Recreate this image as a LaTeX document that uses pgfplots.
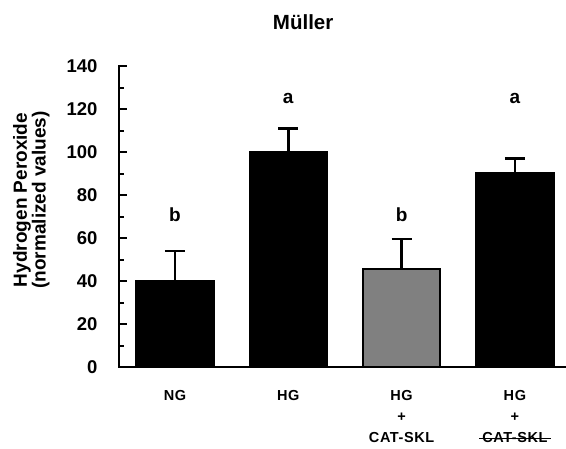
\documentclass[border=0pt]{standalone}
\usepackage{fontspec}
\setmainfont{Liberation Sans}
\usepackage{pgfplots}
\pgfplotsset{compat=1.18}
\newcommand\strike[1]{\setbox0\hbox{#1}\rlap{\kern-3pt\rule[0.32\ht0]{\dimexpr\wd0+6pt\relax}{1.4pt}}\box0}
\begin{document}
\begin{tikzpicture}
\begin{axis}[
  name=ax,
  scale only axis,
  width=447pt, height=301pt,
  xmin=-0.494, xmax=3.451,
  ymin=0, ymax=140,
  axis x line=bottom, axis y line=left,
  axis line style={-, line width=2.5pt, line cap=rect},
  ytick={0,20,...,140},
  minor y tick num=1,
  tick align=inside,
  major tick length=8pt, minor tick length=5pt,
  every tick/.style={black, line width=2pt},
  xtick={0,1,2,3},
  xtick style={draw=none},
  xticklabels={NG, HG, {HG\\[1pt]+\\[1pt]CAT-SKL}, {HG\\[1pt]+\\[1pt]\strike{CAT-SKL}}},
  xticklabel style={align=center, font=\bfseries\fontsize{14.5}{20}\selectfont\addfontfeatures{LetterSpace=4}, yshift=-20pt},
  yticklabel style={font=\bfseries\fontsize{18.5}{20}\selectfont, xshift=-18pt},
  /pgf/number format/assume math mode=true,
  ylabel={Hydrogen Peroxide\\(normalized values)},
  ylabel style={at={(axis description cs:-0.196,0.555)}, anchor=center, align=center, font=\bfseries\fontsize{19}{16.5}\selectfont},
  title={Müller},
  title style={at={(axis description cs:0.412,1.126)}, anchor=center, font=\bfseries\fontsize{20.5}{20}\selectfont},
  clip=false,
]
\addplot[ybar, bar width=77pt, bar shift=0pt, fill=black, draw=black, line width=2.5pt,
  error bars/.cd, y dir=plus, y explicit,
  error bar style={line width=2.5pt, black},
  error mark options={rotate=90, mark size=10pt, line width=2.5pt, black}]
  coordinates {(0,40) +- (0,14) (1,100) +- (0,11) (3,90) +- (0,7)};
\addplot[ybar, bar width=77pt, bar shift=0pt, fill={rgb,255:red,128;green,128;blue,128}, draw=black, line width=2.5pt,
  error bars/.cd, y dir=plus, y explicit,
  error bar style={line width=2.5pt, black},
  error mark options={rotate=90, mark size=10pt, line width=2.5pt, black}]
  coordinates {(2,45.6) +- (0,14)};
\node[font=\bfseries\fontsize{19}{20}\selectfont] at (axis cs:0,71) {b};
\node[font=\bfseries\fontsize{19}{20}\selectfont] at (axis cs:1,125) {a};
\node[font=\bfseries\fontsize{19}{20}\selectfont] at (axis cs:2,71) {b};
\node[font=\bfseries\fontsize{19}{20}\selectfont] at (axis cs:3,125) {a};
\end{axis}
\pgfresetboundingbox
\path[use as bounding box] ([shift={(-119pt,-81pt)}]ax.south west) rectangle ++(566pt,448pt);
\end{tikzpicture}
\end{document}
